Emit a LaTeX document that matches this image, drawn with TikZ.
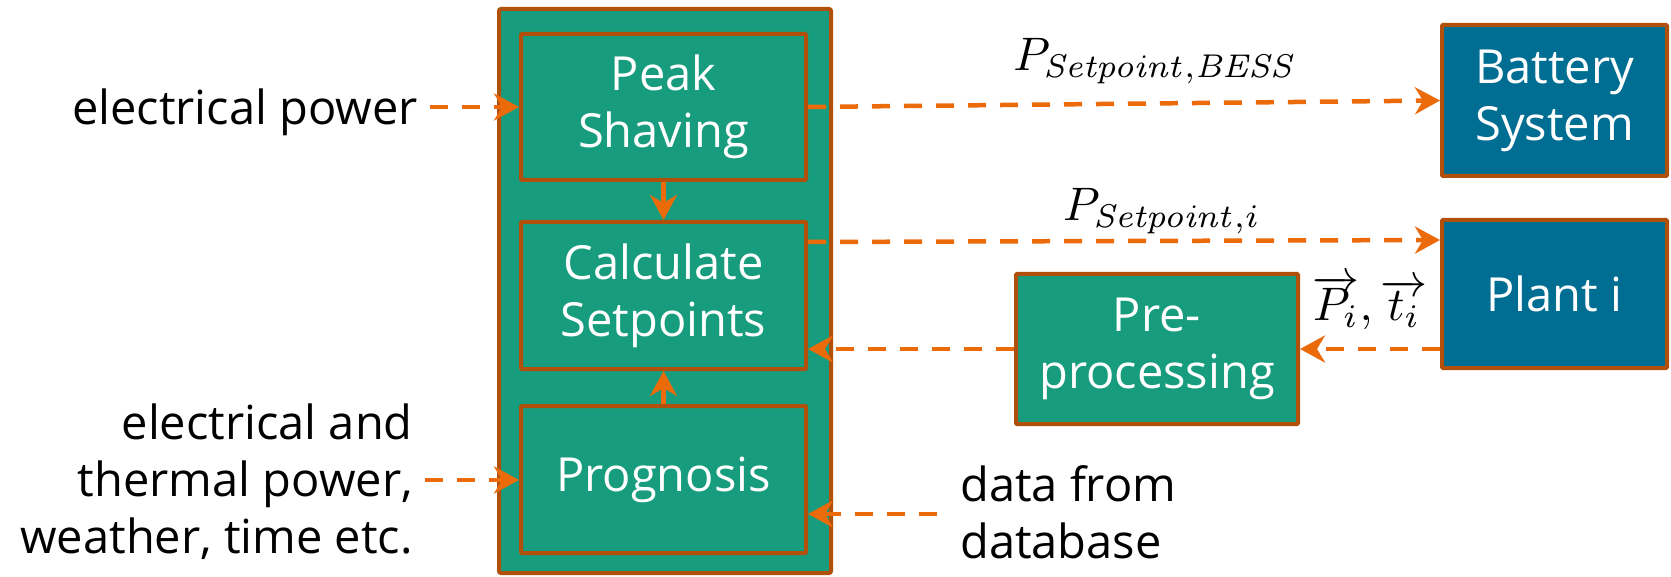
\documentclass[tikz,border=0pt]{standalone}
\usepackage[no-math]{fontspec}
\setmainfont{Open Sans}
\usetikzlibrary{arrows.meta,calc}
\definecolor{fgreen}{RGB}{23,156,125}
\definecolor{fblue}{RGB}{0,110,146}
\definecolor{fborder}{RGB}{176,80,10}
\definecolor{forange}{RGB}{235,106,10}
\newcommand\diagfont{\fontsize{47}{57}\selectfont}
\begin{document}
\begin{tikzpicture}[x=1pt,y=-1pt,
  box/.style={draw=fborder, line width=4pt, fill=fgreen, text=white, align=center,
    font=\diagfont, minimum width=285pt, minimum height=146pt, inner sep=0pt, rounded corners=1pt},
  bluebox/.style={box, fill=fblue, minimum width=225pt, minimum height=151pt},
  outerbox/.style={draw=fborder, line width=4pt, fill=fgreen, minimum width=332pt,
    minimum height=564pt, inner sep=0pt, rounded corners=2pt},
  txt/.style={font=\diagfont, inner sep=0pt, text=black},
  lbl/.style={font=\fontsize{10}{12}\selectfont, inner sep=0pt, text=black, scale=4.7},
  arr/.style={draw=forange, line width=4.5pt, -{Stealth[length=25pt,width=27pt,inset=8pt]}},
  dsh/.style={arr, dash pattern=on 18pt off 14pt}]
\useasboundingbox (0,0) rectangle (1671,577);

\node[outerbox] (ctrl) at (665,291) {};
\node[box] (peak) at (663.5,107) {Peak\\Shaving};
\node[box, minimum height=147pt] (calc) at (663.5,295.5) {Calculate\\Setpoints};
\node[box, minimum height=147pt] (prog) at (663.5,479.5) {Prognosis};
\node[bluebox] (bat) at (1554.5,100.5) {Battery\\System};
\node[bluebox, minimum height=148pt] (plant) at (1554.5,294) {Plant i};
\node[box, minimum width=282pt, minimum height=150pt] (pre) at (1157,349) {Pre-\\processing};

\node[txt, anchor=base east] (elec) at (418,125) {electrical power};
\node[txt, anchor=east, align=right] (inputs) at (413,481.5) {electrical and\\thermal power,\\weather, time etc.};
\node[txt, anchor=west, align=left] (data) at (960,512) {data from\\database};

\coordinate (estart) at (430,107);
\coordinate (istart) at (425,480);
\coordinate (dstart) at (937,514);

\draw[dsh] (estart) -- (peak.west);
\draw[dsh] (istart) -- (istart -| prog.west);
\draw[dsh] (dstart) -- (dstart -| prog.east);

\draw[arr] (peak.south) -- (calc.north);
\draw[arr] (prog.north) -- (calc.south);

\draw[dsh] (peak.east) -- (bat.west)
  node[pos=0.55, anchor=south, yshift=9pt, lbl] {$P_{\mathit{Setpoint},\mathit{BESS}}$};
\draw[dsh] ([yshift=-22pt]calc.north east) -- ([yshift=-22pt]plant.north west)
  node[pos=0.56, anchor=south, yshift=-4pt, lbl] {$P_{\mathit{Setpoint},i}$};
\draw[dsh] (plant.west |- pre.east) -- (pre.east)
  node[pos=0.5, anchor=south, yshift=9pt, lbl] {$\overrightarrow{P_i},\overrightarrow{t_i}$};
\draw[dsh] (pre.west) -- (calc.east |- pre.west);
\end{tikzpicture}
\end{document}
